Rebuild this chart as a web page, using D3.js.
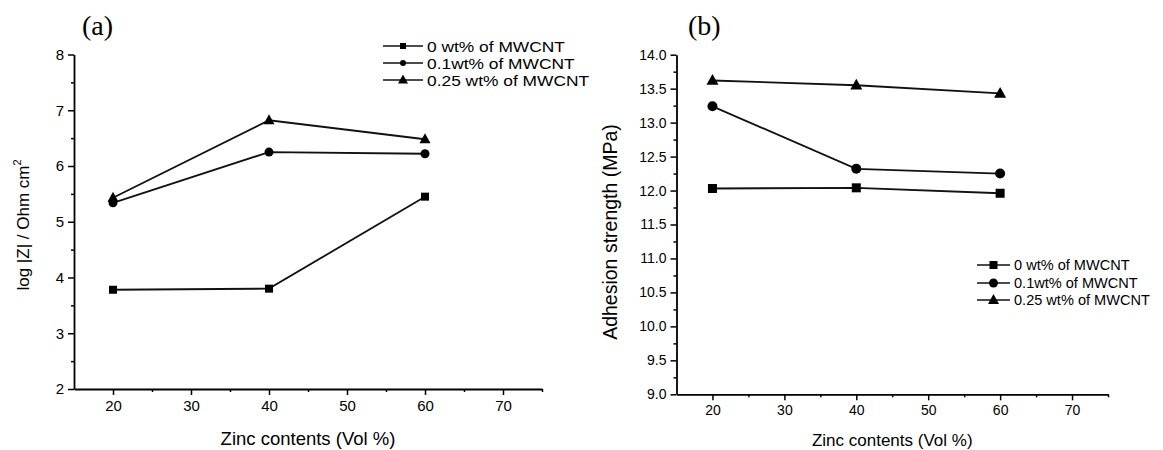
<!DOCTYPE html>
<html>
<head>
<meta charset="utf-8">
<script src="https://cdn.jsdelivr.net/npm/d3@7"></script>
<style>
  body { margin: 0; background: #fff; }
  svg { display: block; }
  text { font-family: "Liberation Sans", Arial, sans-serif; fill: #000; }
</style>
</head>
<body>
<div id="chart"></div>
<script>
// data
const zinc = [20, 40, 60];
const seriesNames = ["0 wt% of MWCNT", "0.1wt% of MWCNT", "0.25 wt% of MWCNT"];
const markers = ["square", "circle", "triangle"];

// panel (a): log |Z| / Ohm cm2
const impedance0 = [3.78, 3.80, 5.45];
const impedance01 = [5.34, 6.25, 6.22];
const impedance025 = [5.43, 6.82, 6.48];

// panel (b): adhesion strength (MPa)
const adhesion0 = [12.03, 12.04, 11.96];
const adhesion01 = [13.24, 12.32, 12.25];
const adhesion025 = [13.62, 13.55, 13.43];

const xTicks = [20, 30, 40, 50, 60, 70];
const xMinor = [25, 35, 45, 55, 65, 75];
const yTicksA = [2, 3, 4, 5, 6, 7, 8];
const yMinorA = [2.5, 3.5, 4.5, 5.5, 6.5, 7.5];
const yTicksB = [9.0, 9.5, 10.0, 10.5, 11.0, 11.5, 12.0, 12.5, 13.0, 13.5, 14.0];
const yMinorB = [9.25, 9.75, 10.25, 10.75, 11.25, 11.75, 12.25, 12.75, 13.25, 13.75];

const W = 1163, H = 450;
const svg = d3.select("#chart").append("svg")
    .attr("width", W).attr("height", H)
    .attr("viewBox", [0, 0, W, H]);

function drawMarker(g, type, cx, cy, s) {
    if (type === "square") {
        g.append("rect").attr("x", cx - s / 2).attr("y", cy - s / 2)
            .attr("width", s).attr("height", s).attr("fill", "#000");
    } else if (type === "circle") {
        g.append("circle").attr("cx", cx).attr("cy", cy).attr("r", s / 2).attr("fill", "#000");
    } else {
        const h = s * 0.9;
        g.append("path")
            .attr("d", `M${cx},${cy - h * 0.6}L${cx + s / 2},${cy + h * 0.4}L${cx - s / 2},${cy + h * 0.4}Z`)
            .attr("fill", "#000");
    }
}

// stretch or squeeze a text horizontally, the picture's fonts are wider/narrower than ours
function widen(t, k) {
    if (!k || k === 1) return;
    const len = t.node().getComputedTextLength();
    t.attr("textLength", len * k).attr("lengthAdjust", "spacingAndGlyphs");
}

function panel(o) {
    const g = svg.append("g");
    const x = d3.scaleLinear().domain([15, 75]).range(o.xr);
    const y = d3.scaleLinear().domain(o.yd).range(o.yr);

    // axes
    g.append("g")
        .attr("transform", `translate(0,${o.yr[0]})`)
        .call(d3.axisBottom(x).tickValues(xMinor).tickSize(3).tickFormat("").tickSizeOuter(0))
        .call(a => a.select(".domain").remove());
    g.append("g")
        .attr("transform", `translate(0,${o.yr[0]})`)
        .call(d3.axisBottom(x).tickValues(xTicks).tickSize(6).tickPadding(5).tickSizeOuter(0))
        .call(a => a.selectAll("text").attr("font-size", o.tickFont).attr("fill", "#000"))
        .call(a => a.selectAll("path").attr("stroke", "#000").attr("stroke-width", 1.8));
    g.append("g")
        .attr("transform", `translate(${o.xr[0]},0)`)
        .call(d3.axisLeft(y).tickValues(o.yMinor).tickSize(3).tickFormat("").tickSizeOuter(0))
        .call(a => a.select(".domain").remove());
    g.append("g")
        .attr("transform", `translate(${o.xr[0]},0)`)
        .call(d3.axisLeft(y).tickValues(o.yTicks).tickSize(6).tickPadding(4)
            .tickFormat(o.fmt).tickSizeOuter(0))
        .call(a => a.selectAll("text").attr("font-size", o.tickFont).attr("fill", "#000"))
        .call(a => a.selectAll("path").attr("stroke", "#000").attr("stroke-width", 1.8));
    g.selectAll(".tick line").attr("stroke", "#000").attr("stroke-width", 1.5);

    // series
    const line = d3.line().x((d, i) => x(zinc[i])).y(d => y(d));
    o.series.forEach((vals, k) => {
        g.append("path").attr("d", line(vals))
            .attr("fill", "none").attr("stroke", "#111").attr("stroke-width", 1.8);
        vals.forEach((v, i) => drawMarker(g, markers[k], x(zinc[i]), y(v), o.mSize[k]));
    });

    // legend
    seriesNames.forEach((name, k) => {
        const ly = o.legY[k];
        g.append("line").attr("x1", o.legX[0]).attr("x2", o.legX[1])
            .attr("y1", ly).attr("y2", ly).attr("stroke", "#111").attr("stroke-width", 1.6);
        drawMarker(g, markers[k], (o.legX[0] + o.legX[1]) / 2, ly, o.legM[k]);
        const t = g.append("text").attr("x", o.legX[1] + 4).attr("y", ly + o.legFont * 0.36)
            .attr("font-size", o.legFont).text(name);
        widen(t, o.legWiden);
    });

    // axis titles
    g.append("text")
        .attr("x", (o.xr[0] + o.xr[1]) / 2).attr("y", o.xTitleY)
        .attr("text-anchor", "middle").attr("font-size", o.xTitleFont)
        .text("Zinc contents (Vol %)");
    const yt = g.append("text")
        .attr("transform", `translate(${o.yTitleX},${o.yTitleY}) rotate(-90)`)
        .attr("text-anchor", "middle").attr("font-size", o.yTitleFont);
    o.yTitle(yt);

    // panel letter
    g.append("text").attr("x", o.letter[0]).attr("y", o.letter[1])
        .style("font-family", "'Liberation Serif', 'Times New Roman', serif")
        .attr("font-size", 28).text(o.letter[2]);
}

panel({
    xr: [74, 542], yr: [389, 54.5], yd: [2, 8],
    yTicks: yTicksA, yMinor: yMinorA, fmt: d3.format("d"),
    series: [impedance0, impedance01, impedance025],
    mSize: [8, 9, 11], legM: [6, 6, 10],
    legX: [383, 423], legY: [46, 63, 80], legFont: 15.5, legWiden: 1.12,
    tickFont: 15, xTitleFont: 18.5, yTitleFont: 17, xTitleY: 445,
    yTitleX: 29, yTitleY: 225,
    yTitle: t => {
        t.append("tspan").text("log |Z| / Ohm cm");
        t.append("tspan").attr("dy", -8).attr("font-size", 11).text("2");
    },
    letter: [82, 35, "(a)"]
});

panel({
    xr: [676.5, 1108], yr: [394.3, 54.7], yd: [9, 14],
    yTicks: yTicksB, yMinor: yMinorB, fmt: d3.format(".1f"),
    series: [adhesion0, adhesion01, adhesion025],
    mSize: [9, 10, 12], legM: [8, 9, 11],
    legX: [977, 1010], legY: [265, 283, 300], legFont: 15, legWiden: 0.97,
    tickFont: 14, xTitleFont: 17, yTitleFont: 19.5, xTitleY: 446,
    yTitleX: 617, yTitleY: 232,
    yTitle: t => t.text("Adhesion strength (MPa)"),
    letter: [688, 35, "(b)"]
});
</script>
</body>
</html>
